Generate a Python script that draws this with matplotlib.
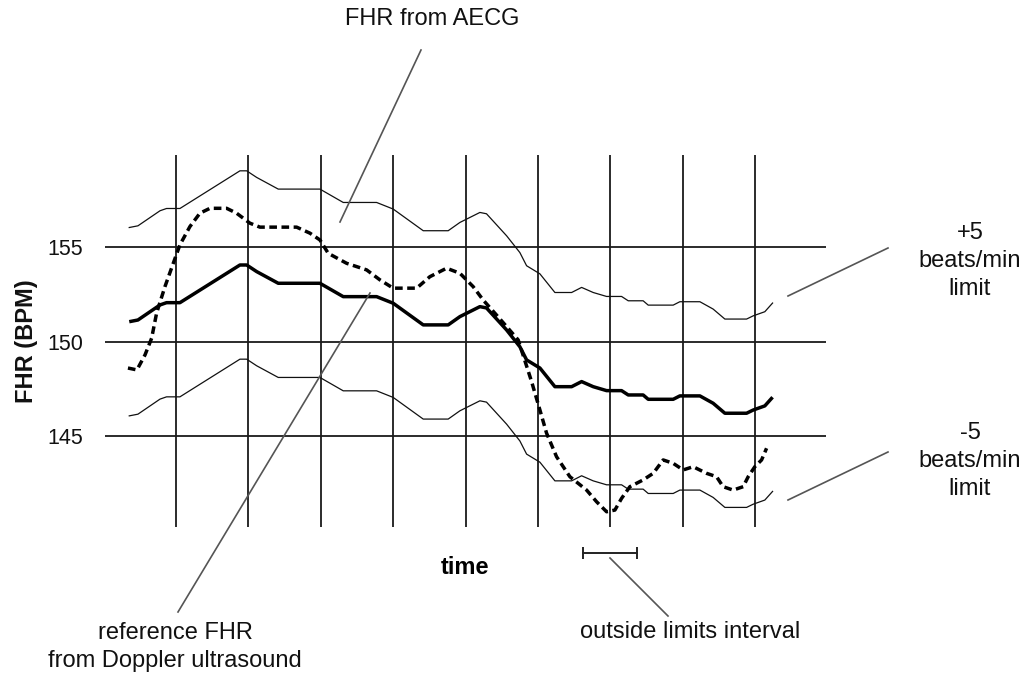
import matplotlib
matplotlib.use("Agg")
import matplotlib.pyplot as plt

plt.rcParams['font.family'] = ['Liberation Sans', 'DejaVu Sans']

# ---- data (time in grid units, FHR in BPM) ----
aecg_t = [0.355, 0.475, 0.78, 0.87, 1.055, 1.884, 1.977, 2.115, 2.413, 2.989,
          3.311, 3.772, 4.001, 4.416, 4.761, 4.923, 5.199, 5.29, 5.568, 5.751,
          5.844, 6.028, 6.235, 6.466, 6.604, 6.764, 6.949, 7.156, 7.248, 7.454,
          7.524, 7.869, 7.961, 8.238, 8.421, 8.583, 8.883, 8.974, 9.135, 9.242]
aecg_fhr = [151.06, 151.15, 151.95, 152.07, 152.07, 154.07, 154.07, 153.72, 153.10, 153.10,
            152.39, 152.39, 152.04, 150.89, 150.89, 151.33, 151.86, 151.79, 150.62, 149.73,
            149.03, 148.60, 147.61, 147.61, 147.88, 147.61, 147.40, 147.40, 147.17, 147.17,
            146.94, 146.94, 147.12, 147.12, 146.73, 146.20, 146.20, 146.37, 146.59, 147.05]

doppler_t = [0.337, 0.461, 0.572, 0.664, 0.733, 0.848, 0.963, 1.055, 1.193, 1.331,
             1.47, 1.70, 1.838, 2.022, 2.16, 2.667, 2.851, 2.989, 3.104, 3.358,
             3.634, 3.818, 4.001, 4.325, 4.508, 4.739, 4.923, 5.106, 5.244, 5.406,
             5.568, 5.728, 5.913, 6.028, 6.12, 6.258, 6.442, 6.673, 6.811, 6.949,
             7.064, 7.156, 7.271, 7.454, 7.593, 7.731, 7.869, 8.007, 8.145, 8.33,
             8.468, 8.559, 8.697, 8.836, 8.905, 8.997, 9.09, 9.159]
doppler_fhr = [148.6, 148.5, 149.29, 150.18, 151.52, 152.92, 154.16, 155.14, 156.11, 156.82,
               157.08, 157.08, 156.82, 156.29, 156.08, 156.08, 155.76, 155.40, 154.69, 154.16,
               153.81, 153.28, 152.84, 152.84, 153.45, 153.90, 153.63, 152.92, 152.21, 151.51,
               150.80, 150.09, 147.88, 146.37, 145.14, 143.89, 142.83, 142.12, 141.50, 140.97,
               141.06, 141.68, 142.30, 142.66, 143.01, 143.72, 143.54, 143.19, 143.36, 143.01,
               142.83, 142.30, 142.12, 142.30, 142.83, 143.36, 143.72, 144.34]

limit = 5
h_grid = [145, 150, 155]
v_grid = [1, 2, 3, 4, 5, 6, 7, 8, 9]
ytick_labels = ['145', '150', '155']
interval = (6.63, 7.37)

W, H = 1029, 675
fig = plt.figure(figsize=(W / 100, H / 100), dpi=100)


def fp(x, y):
    return (x / W, 1 - y / H)


ax = fig.add_axes([105 / W, 1 - 527 / H, (826 - 105) / W, (527 - 155) / H])
ax.set_xlim(0.02, 9.98)
ax.set_ylim(140.16, 159.91)
for s in ax.spines.values():
    s.set_visible(False)
ax.set_xticks([])
ax.set_yticks(h_grid)
ax.set_yticklabels(ytick_labels, fontsize=15.5, color='#111')
ax.tick_params(axis='y', length=0, pad=16)

for yv in h_grid:
    ax.axhline(yv, color='#1a1a1a', lw=1.3, zorder=1)
for xv in v_grid:
    ax.axvline(xv, color='#1a1a1a', lw=1.3, zorder=1)

upper = [v + limit for v in aecg_fhr]
lower = [v - limit for v in aecg_fhr]
ax.plot(aecg_t, upper, color='#111', lw=0.9, zorder=2)
ax.plot(aecg_t, lower, color='#111', lw=0.9, zorder=2)
ax.plot(aecg_t, aecg_fhr, color='#000', lw=2.5, zorder=3, solid_capstyle='butt')
ax.plot(doppler_t, doppler_fhr, color='#000', lw=2.5, zorder=3,
        linestyle=(0, (2.2, 1.3)))

# outside-limits interval bar (below plot area)
ybar = 150 - (553 - 341.7) / 18.83
ax.plot(list(interval), [ybar, ybar], color='#222', lw=1.4, clip_on=False,
        marker='|', markersize=8, markeredgewidth=1.4)

ax.set_ylabel('FHR (BPM)', fontsize=17, fontweight='bold', color='#111')
ax.yaxis.set_label_coords((38 - 105) / (826 - 105), 0.5)

txt = dict(fontsize=17, color='#111', ha='center', va='center')
fig.text(*fp(432, 19), 'FHR from AECG', **txt)
fig.text(*fp(175, 647), 'reference FHR\nfrom Doppler ultrasound', linespacing=1.38, **txt)
fig.text(*fp(970, 261), '+5\nbeats/min\nlimit', linespacing=1.35, **txt)
fig.text(*fp(970, 461), '-5\nbeats/min\nlimit', linespacing=1.35, **txt)
fig.text(*fp(690, 632), 'outside limits interval', **txt)
fig.text(*fp(465, 568), 'time', fontsize=17, fontweight='bold', color='#000',
         ha='center', va='center')

lc = dict(color='#555', lw=1.2)


def seg(x0, y0, x1, y1):
    a = fp(x0, y0)
    b = fp(x1, y1)
    fig.add_artist(plt.Line2D([a[0], b[0]], [a[1], b[1]], **lc))


seg(421, 50, 340, 222)
seg(370, 293, 178, 612)
seg(788, 296, 888, 248)
seg(788, 500, 888, 452)
seg(610, 558, 668, 616)

fig.savefig('out.png', dpi=100)
